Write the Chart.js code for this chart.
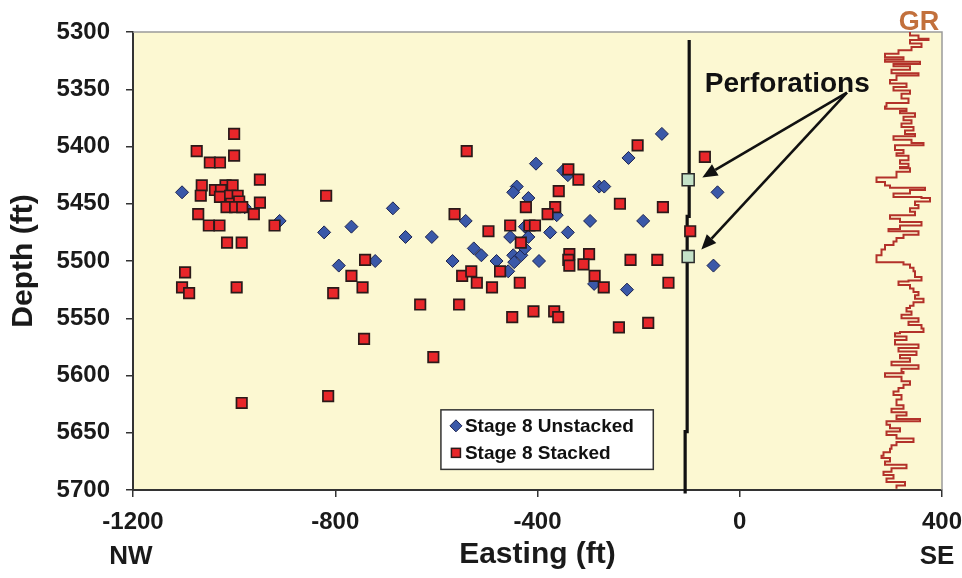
<!DOCTYPE html>
<html>
<head>
<meta charset="utf-8">
<script src="https://cdn.jsdelivr.net/npm/chart.js@4/dist/chart.umd.min.js"></script>
<style>
html,body{margin:0;padding:0;background:#ffffff;}
#wrap{width:962px;height:578px;position:relative;}
</style>
</head>
<body>
<div id="wrap"><canvas id="c" width="962" height="578"></canvas></div>
<script>
// ---------- DATA ----------
const xTickValues = [-1200, -800, -400, 0, 400];
const yTickValues = [5300, 5350, 5400, 5450, 5500, 5550, 5600, 5650, 5700];

const seriesNames = ["Stage 8 Unstacked", "Stage 8 Stacked"];

const unstackedEasting = [-1103,-979,-910,-822,-768,-686,-661,-793,-721,-154,-220,-403,-349,-340,-278,-268,-441,-448,-418,-362,-542,-296,-191,-609,-425,-454,-418,-375,-340,-526,-511,-568,-481,-448,-432,-446,-425,-397,-458,-288,-223,-44,-52];
const unstackedDepth   = [5440,5453,5465,5475,5470,5454,5479,5504,5500,5389,5410,5415,5421,5425,5435,5435,5435,5440,5445,5460,5465,5465,5465,5479,5470,5479,5479,5475,5475,5489,5495,5500,5500,5495,5495,5501,5489,5500,5509,5520,5525,5440,5504];

const stackedEasting = [-1000,-1074,-1048,-1028,-1000,-949,-1064,-1017,-1003,-1038,-1026,-1066,-1028,-1008,-993,-1006,-990,-1015,-998,-984,-949,-1071,-961,-920,-1050,-1029,-1014,-985,-1097,-1103,-1089,-995,-818,-741,-768,-746,-804,-743,-814,-985,-540,-202,-339,-319,-358,-237,-152,-423,-365,-380,-564,-497,-454,-416,-405,-433,-337,-339,-337,-298,-309,-216,-163,-287,-269,-141,-549,-531,-520,-490,-474,-435,-98,-632,-555,-450,-408,-367,-359,-239,-181,-606,-69];
const stackedDepth   = [5389,5404,5414,5414,5408,5429,5434,5434,5434,5438,5438,5443,5444,5443,5443,5450,5448,5453,5453,5453,5449,5459,5459,5469,5469,5469,5484,5484,5510,5523,5528,5523,5443,5499,5513,5523,5528,5568,5618,5624,5404,5399,5420,5429,5439,5450,5453,5453,5453,5459,5459,5474,5469,5469,5469,5484,5494,5499,5504,5494,5503,5499,5499,5513,5523,5519,5513,5509,5519,5523,5509,5519,5474,5538,5538,5549,5544,5544,5549,5558,5554,5584,5409];

// wellbore trace and perforations
const wellEasting = [-100, -100, -104, -104, -108, -108];
const wellDepth   = [5307, 5461, 5461, 5649, 5649, 5703];
const perfEasting = [-102, -102];
const perfDepth   = [5429, 5496];

// gamma ray log (API units) vs depth
const grDepth = [5300,5303,5306,5307,5310,5313,5316,5319,5322,5324,5326,5328,5330,5333,5336,5338,5342,5345,5348,5351,5354,5358,5362,5365,5367,5369,5371,5374,5377,5380,5383,5386,5389,5391,5394,5397,5399,5403,5406,5408,5412,5415,5418,
5419,5422,5427,5431,5434,5436,5438,5441,5444,5445,5448,5451,5454,5457,5460,5463,5466,5469,5472,5474,5477,5480,5483,5486,5490,5495,5499,5501,5503,5506,5509,5514,5517,5518,5521,5524,5527,5530,5533,5536,5539,5541,5544,5547,5550,5553,5556,5559,
5562,5563,5566,5569,5573,5576,5579,5582,5585,5588,5591,5594,5597,5598,5601,5605,5608,5611,5614,5617,5621,5626,5629,5632,5635,5638,5640,5643,5646,5649,5652,5655,5658,5661,5664,5667,5670,5672,5675,5678,5681,5684,5687,5690,5693,5696,5699];
const grValue = [100,117,137,100,123,103,77,50,87,50,120,67,100,63,117,73,60,93,67,100,83,97,53,50,93,80,110,87,103,83,107,90,110,67,103,127,70,87,73,97,80,97,80,
100,73,33,50,60,130,100,67,123,140,110,117,100,110,60,80,123,80,57,117,87,73,67,50,43,33,33,87,100,107,110,123,97,77,100,107,117,110,127,107,100,93,103,83,117,97,123,127,
80,70,93,70,117,77,113,80,100,63,117,83,87,50,83,100,87,77,67,83,73,87,63,93,73,120,53,60,80,53,73,107,73,63,60,47,43,60,50,93,63,47,67,53,90,73,73];

// annotation anchors (in data units)
const perfLabel = "Perforations";
const perfLabelAt = [-69, 5352];
const arrowFrom = [212, 5353];
const arrowTo = [[-74, 5427], [-76, 5490]];
const grLabel = "GR";

// ---------- CHART ----------
Chart.defaults.font.family = '"Liberation Sans", Arial, Helvetica, sans-serif';
Chart.defaults.color = '#1a1a1a';

const pts = (xs, ys) => xs.map((x, i) => ({x: x, y: ys[i]}));

const BG = '#fcf8d2';

const decor = {
  id: 'decor',
  beforeDraw(chart) {
    const {ctx, chartArea: a} = chart;
    ctx.save();
    ctx.fillStyle = BG;
    ctx.fillRect(a.left, a.top, a.right - a.left, a.bottom - a.top);
    ctx.restore();
  },
  beforeDatasetsDraw(chart) {
    const {ctx, chartArea: a} = chart;
    ctx.save();
    ctx.strokeStyle = '#9a9a9a';
    ctx.lineWidth = 1.5;
    ctx.beginPath();
    ctx.moveTo(a.left, a.top);
    ctx.lineTo(a.right, a.top);
    ctx.lineTo(a.right, a.bottom);
    ctx.stroke();
    ctx.restore();
  },
  afterDatasetsDraw(chart) {
    const {ctx, chartArea: a} = chart;
    const xs = chart.scales.x, ys = chart.scales.y;
    const px = v => xs.getPixelForValue(v), py = v => ys.getPixelForValue(v);
    ctx.save();
    // Perforations label
    ctx.fillStyle = '#111';
    ctx.font = 'bold 28px "Liberation Sans", Arial, sans-serif';
    ctx.textAlign = 'left';
    ctx.textBaseline = 'alphabetic';
    ctx.fillText(perfLabel, px(perfLabelAt[0]), py(perfLabelAt[1]));
    // arrows
    const x0 = px(arrowFrom[0]), y0 = py(arrowFrom[1]);
    arrowTo.forEach(t => {
      const x1 = px(t[0]), y1 = py(t[1]);
      const ang = Math.atan2(y1 - y0, x1 - x0);
      const L = 15, W = 6.5;
      const bx = x1 - L * Math.cos(ang), by = y1 - L * Math.sin(ang);
      ctx.strokeStyle = '#111';
      ctx.lineWidth = 2.6;
      ctx.beginPath();
      ctx.moveTo(x0, y0);
      ctx.lineTo(bx, by);
      ctx.stroke();
      ctx.fillStyle = '#111';
      ctx.beginPath();
      ctx.moveTo(x1, y1);
      ctx.lineTo(bx + W * Math.sin(ang), by - W * Math.cos(ang));
      ctx.lineTo(bx - W * Math.sin(ang), by + W * Math.cos(ang));
      ctx.closePath();
      ctx.fill();
    });
    // GR label
    ctx.fillStyle = '#c2703c';
    ctx.font = 'bold 27px "Liberation Sans", Arial, sans-serif';
    ctx.textAlign = 'center';
    ctx.fillText(grLabel, a.right - 23, a.top - 2);
    // NW / SE
    ctx.fillStyle = '#1a1a1a';
    ctx.font = 'bold 26px "Liberation Sans", Arial, sans-serif';
    ctx.textBaseline = 'middle';
    ctx.fillText('NW', px(xTickValues[0]) - 2, 557);
    ctx.fillText('SE', px(xTickValues[xTickValues.length - 1]) - 5, 557);
    // Legend
    const lx0 = px(-591), lx1 = px(-171), ly0 = py(5630), ly1 = py(5682);
    ctx.fillStyle = '#ffffff';
    ctx.fillRect(lx0, ly0, lx1 - lx0, ly1 - ly0);
    ctx.strokeStyle = '#333';
    ctx.lineWidth = 1.5;
    ctx.strokeRect(lx0, ly0, lx1 - lx0, ly1 - ly0);
    const rowY = [ly0 + 16, ly0 + 43];
    const mx = lx0 + 15;
    // diamond
    ctx.fillStyle = '#3a58a8';
    ctx.strokeStyle = '#1c2350';
    ctx.lineWidth = 1;
    ctx.beginPath();
    ctx.moveTo(mx, rowY[0] - 6); ctx.lineTo(mx + 6, rowY[0]); ctx.lineTo(mx, rowY[0] + 6); ctx.lineTo(mx - 6, rowY[0]); ctx.closePath();
    ctx.fill(); ctx.stroke();
    // square
    ctx.fillStyle = '#e8262a';
    ctx.strokeStyle = '#2a1a1a';
    ctx.lineWidth = 1.5;
    ctx.fillRect(mx - 4.5, rowY[1] - 4.5, 9, 9);
    ctx.strokeRect(mx - 4.5, rowY[1] - 4.5, 9, 9);
    ctx.fillStyle = '#111';
    ctx.font = 'bold 19px "Liberation Sans", Arial, sans-serif';
    ctx.textAlign = 'left';
    ctx.textBaseline = 'middle';
    ctx.fillText(seriesNames[0], lx0 + 24, rowY[0] + 1);
    ctx.fillText(seriesNames[1], lx0 + 24, rowY[1] + 1);
    ctx.restore();
  }
};

new Chart(document.getElementById('c'), {
  type: 'scatter',
  data: {
    datasets: [
      {
        label: 'Perforations',
        data: pts(perfEasting, perfDepth),
        pointStyle: 'rect',
        pointRadius: 8.5,
        backgroundColor: '#c4e2c8',
        borderColor: '#2a2a2a',
        borderWidth: 1.5,
        order: 0
      },
      {
        label: seriesNames[1],
        data: pts(stackedEasting, stackedDepth),
        pointStyle: 'rect',
        pointRadius: 7.4,
        backgroundColor: '#e8262a',
        borderColor: '#2a1a1a',
        borderWidth: 1.7,
        order: 1
      },
      {
        label: seriesNames[0],
        data: pts(unstackedEasting, unstackedDepth),
        pointStyle: 'rectRot',
        pointRadius: 6.5,
        backgroundColor: '#3a58a8',
        borderColor: '#1c2350',
        borderWidth: 1,
        order: 2
      },
      {
        label: 'Well',
        data: pts(wellEasting, wellDepth),
        showLine: true,
        borderColor: '#111111',
        borderWidth: 3.2,
        pointRadius: 0,
        clip: false,
        order: 3
      },
      {
        label: 'GR',
        data: pts(grValue, grDepth),
        xAxisID: 'xGR',
        showLine: true,
        stepped: 'after',
        borderColor: '#b3322a',
        borderWidth: 2,
        pointRadius: 0,
        order: 4
      }
    ]
  },
  options: {
    responsive: false,
    animation: false,
    devicePixelRatio: 1,
    layout: { padding: { top: 32, right: 20, left: 0, bottom: 0 } },
    plugins: { legend: { display: false }, tooltip: { enabled: false } },
    scales: {
      x: {
        type: 'linear',
        position: 'bottom',
        min: -1200, max: 400,
        afterBuildTicks: s => { s.ticks = xTickValues.map(v => ({value: v})); },
        afterFit: s => { s.height = 88; s.paddingLeft = 0; s.paddingRight = 0; },
        ticks: { font: { size: 24, weight: 'bold' }, color: '#1a1a1a', padding: 11, maxRotation: 0, callback: v => String(v) },
        grid: { drawOnChartArea: false, drawTicks: true, tickLength: 7, color: '#333', lineWidth: 1.5 },
        border: { display: true, color: '#333', width: 2 },
        title: { display: true, text: 'Easting (ft)', font: { size: 30, weight: 'bold' }, color: '#1a1a1a', padding: { top: 0, bottom: 5 } }
      },
      xGR: {
        type: 'linear',
        display: false,
        min: -1454, max: 164
      },
      y: {
        type: 'linear',
        position: 'left',
        reverse: true,
        min: 5300, max: 5700,
        afterBuildTicks: s => { s.ticks = yTickValues.map(v => ({value: v})); },
        afterFit: s => { s.width = 133; s.paddingTop = 0; s.paddingBottom = 0; },
        ticks: { font: { size: 24, weight: 'bold' }, color: '#1a1a1a', padding: 16, callback: v => String(v) },
        grid: { drawOnChartArea: false, drawTicks: true, tickLength: 7, color: '#333', lineWidth: 1.5 },
        border: { display: true, color: '#333', width: 2 },
        title: { display: true, text: 'Depth (ft)', font: { size: 30, weight: 'bold' }, color: '#1a1a1a', padding: { top: 6, bottom: 0 } }
      }
    }
  },
  plugins: [decor]
});
</script>
</body>
</html>
